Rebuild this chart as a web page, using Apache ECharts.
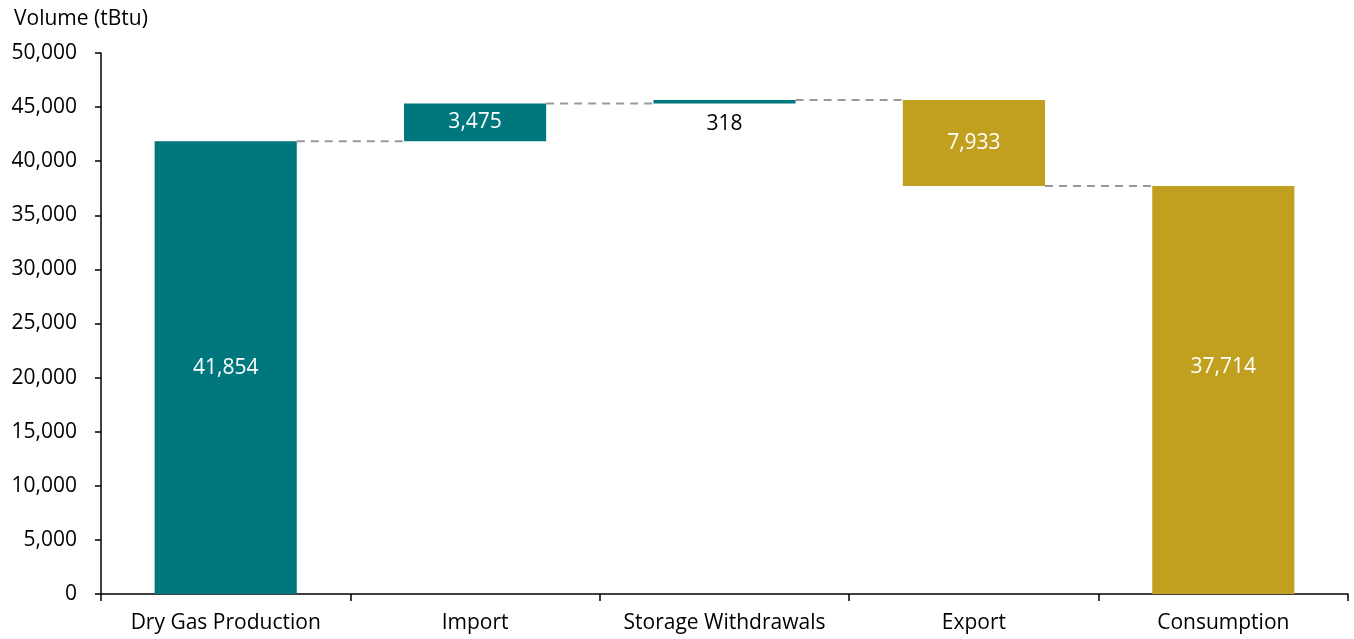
<!DOCTYPE html>
<html><head><meta charset="utf-8">
<script src="https://cdn.jsdelivr.net/npm/echarts@6/dist/echarts.min.js"></script>
<style>html,body{margin:0;padding:0;background:#fff}#c{width:1354px;height:639px}</style>
</head><body><div id="c"></div>
<script>
const categories = ['Dry Gas Production', 'Import', 'Storage Withdrawals', 'Export', 'Consumption'];
const values = [41854, 3475, 318, -7933, 37714];
const isTotal = [true, false, false, false, true];
const yTicks = [0, 5000, 10000, 15000, 20000, 25000, 30000, 35000, 40000, 45000, 50000];

const TEAL = '#00777D', GOLD = '#C1A01F';
const FONT = '"Open Sans"';
const FS = 21;

// running totals -> base (invisible) and visible heights
const bases = [], heights = [], levels = [];
let run = 0;
values.forEach((v, i) => {
  if (isTotal[i]) { bases.push(0); heights.push(Math.abs(v)); run = v; }
  else {
    const next = run + v;
    bases.push(Math.min(run, next)); heights.push(Math.abs(v)); run = next;
  }
  levels.push(run);
});
const colorFor = i => (values[i] < 0 || (isTotal[i] && i === values.length - 1)) ? GOLD : TEAL;

const visData = heights.map((h, i) => {
  const d = { value: h, itemStyle: { color: colorFor(i) } };
  if (i === 2) d.label = { position: 'bottom', color: '#000', distance: 10 };
  if (i === 4) d.label = { offset: [0, -23] };
  return d;
});
const labelText = i => Math.abs(values[i]).toLocaleString('en-US');

const connectors = levels.slice(0, -1).map((lv, i) => [i, lv]);

const chart = echarts.init(document.getElementById('c'));
chart.setOption({
  animation: false,
  grid: { left: 101, right: 6, top: 53, bottom: 45 },
  title: { text: 'Volume (tBtu)', left: 9, top: 4,
    textStyle: { fontFamily: FONT, fontSize: FS, fontWeight: 'normal', color: '#000' } },
  xAxis: {
    type: 'category', data: categories,
    axisLine: { lineStyle: { color: '#000', width: 1.5 } },
    axisTick: { show: true, interval: 0, length: 7, lineStyle: { color: '#000', width: 1.5 } },
    axisLabel: { interval: 0, fontFamily: FONT, fontSize: FS, color: '#000', margin: 19 }
  },
  yAxis: {
    type: 'value', min: 0, max: 50000, interval: 5000,
    splitLine: { show: false },
    axisLine: { show: true, lineStyle: { color: '#000', width: 1.5 } },
    axisTick: { show: true, length: 6, lineStyle: { color: '#000', width: 1.5 } },
    axisLabel: { fontFamily: FONT, fontSize: FS, color: '#000', margin: 24,
      formatter: v => v.toLocaleString('en-US') }
  },
  series: [
    { type: 'bar', stack: 'w', data: bases, barWidth: '57%',
      itemStyle: { color: 'transparent' }, silent: true },
    { type: 'bar', stack: 'w', data: visData, barWidth: '57%',
      label: { show: true, position: 'inside', color: '#fff', fontFamily: FONT, fontSize: FS,
        formatter: p => labelText(p.dataIndex) } },
    { type: 'custom', data: connectors, z: 5,
      renderItem: (params, api) => {
        const i = api.value(0), lv = api.value(1);
        const p1 = api.coord([i, lv]), p2 = api.coord([i + 1, lv]);
        const bw = api.size([1, 0])[0] * 0.57;
        return { type: 'line',
          shape: { x1: p1[0] + bw / 2, y1: p1[1], x2: p2[0] - bw / 2, y2: p2[1] },
          style: { stroke: '#999', lineWidth: 2, lineDash: [8, 6] } };
      } }
  ]
});
</script></body></html>
